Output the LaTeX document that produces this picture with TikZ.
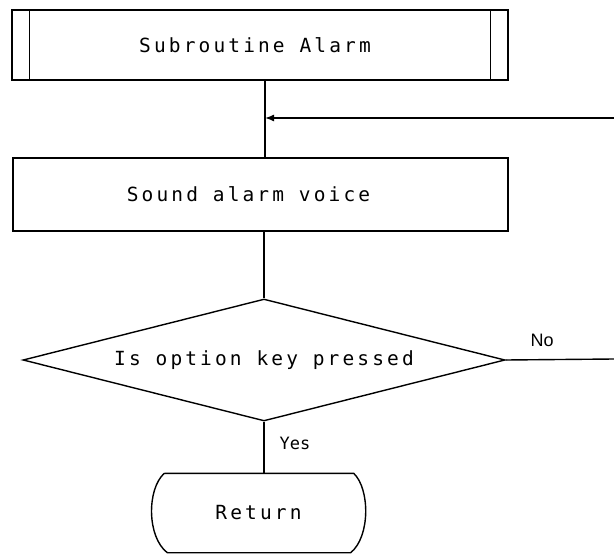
\documentclass[tikz,border=0pt]{standalone}
\usepackage{fontspec}
\setmonofont[LetterSpace=16]{DejaVu Sans Mono}
\newfontfamily\labelfont{Liberation Sans}
\newfontfamily\tagfont{DejaVu Sans Mono}
\usetikzlibrary{shapes.geometric,arrows.meta,calc}
\begin{document}
\begin{tikzpicture}[x=1pt,y=-1pt,
  line width=1.4pt,
  plot/.style={font=\ttfamily\fontsize{19.5}{24}\selectfont},
  procbox/.style={draw,rectangle,plot,inner sep=0pt},
  decision/.style={draw,diamond,aspect=4,plot,inner sep=0pt},
  flow/.style={draw},
  tip/.style={-{Latex[length=9pt,width=7pt]}}
]
\useasboundingbox (0,0) rectangle (614,554);

% subroutine header with double side bars
\node[procbox,minimum width=496pt,minimum height=70pt] (sub) at (260,45) {\hspace*{-10pt}Subroutine Alarm};
\draw ($(sub.north west)+(18,0)$) -- ($(sub.south west)+(18,0)$);
\draw ($(sub.north east)+(-18,0)$) -- ($(sub.south east)+(-18,0)$);

% process step
\node[procbox,minimum width=495pt,minimum height=73pt] (snd) at (260.5,194.5) {\hspace*{-24pt}Sound alarm voice};

% decision
\node[decision,minimum width=482pt,minimum height=122pt] (dec) at (264,360) {Is option key pressed};

% terminator: flat top and bottom, bulging sides
\node[plot,minimum width=213pt,minimum height=78pt,inner sep=0pt] (ret) at (258.5,513) {Return};
\draw ($(ret.north west)+(13,0)$) -- ($(ret.north east)+(-12,0)$)
  .. controls ($(ret.east)+(4.5,-24)$) and ($(ret.east)+(4.5,24)$) .. ($(ret.south east)+(-15,0)$)
  -- ($(ret.south west)+(16,0)$)
  .. controls ($(ret.west)+(-4.5,24)$) and ($(ret.west)+(-4.5,-24)$) .. ($(ret.north west)+(13,0)$);

% trunk and loop-back entry
\coordinate (trunk) at (265,0);
\coordinate (loopin) at (614,118);
\coordinate (noend) at (614,359);

\draw[flow] (sub.south -| trunk) -- (snd.north -| trunk);
\draw[flow,tip] (loopin) -- (loopin -| trunk);
\draw[flow] (snd.south -| dec.north) -- (dec.north);
\draw[flow] (dec.east) -- (noend);
\draw[flow] (dec.south) -- (dec.south |- ret.north);

% branch labels
\node[font=\labelfont\fontsize{18}{22}\selectfont,anchor=west,inner sep=0pt] (nolab) at (530,340) {No};
\node[font=\tagfont\fontsize{17}{20}\selectfont,anchor=west,inner sep=0pt] (yeslab) at (279,443) {Yes};
\end{tikzpicture}
\end{document}
